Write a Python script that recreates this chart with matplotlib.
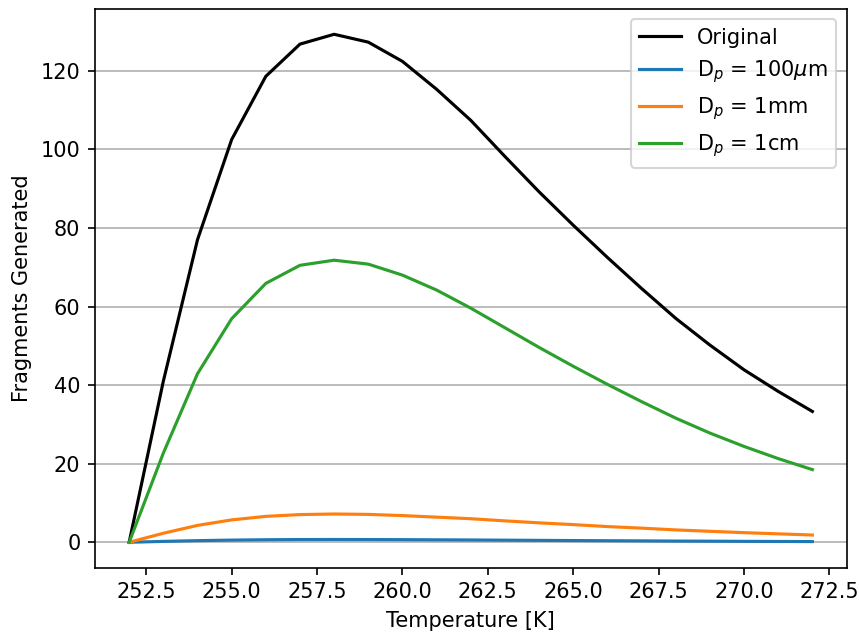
import numpy as np
import matplotlib
matplotlib.use('Agg')
import matplotlib.pyplot as plt

# temperatures [K]
temperature = list(range(252, 273))

# fragments generated
original = [0, 41.0, 77.0, 102.5, 118.6, 126.8, 129.3, 127.3, 122.4, 115.3,
            107.4, 98.2, 89.2, 80.7, 72.5, 64.6, 57.0, 50.2, 43.9, 38.4, 33.3]
dp_100um = [0, 0.23, 0.42, 0.56, 0.65, 0.70, 0.71, 0.70, 0.67, 0.63,
            0.59, 0.54, 0.49, 0.44, 0.40, 0.36, 0.31, 0.28, 0.24, 0.21, 0.18]
dp_1mm = [0, 2.3, 4.3, 5.7, 6.6, 7.05, 7.2, 7.1, 6.8, 6.4,
          6.0, 5.45, 4.95, 4.5, 4.0, 3.6, 3.15, 2.8, 2.45, 2.15, 1.85]
dp_1cm = [0, 22.7, 42.9, 56.9, 65.9, 70.5, 71.8, 70.8, 68.0, 64.2,
          59.6, 54.6, 49.6, 44.8, 40.2, 35.8, 31.6, 27.8, 24.4, 21.3, 18.5]

fig = plt.figure(figsize=(859/150, 635/150), dpi=150)
ax = fig.add_subplot(111)
fig.subplots_adjust(left=0.1106, right=0.9855, top=0.986, bottom=0.106)

ax.plot(temperature, original, color='black', label='Original')
ax.plot(temperature, dp_100um, label=r'D$_p$ = 100$\mu$m')
ax.plot(temperature, dp_1mm, label=r'D$_p$ = 1mm')
ax.plot(temperature, dp_1cm, label=r'D$_p$ = 1cm')

ax.grid(axis='y')
ax.set_xlabel('Temperature [K]')
ax.set_ylabel('Fragments Generated')
ax.legend(loc='upper right')

fig.savefig('out.png', dpi=150)
